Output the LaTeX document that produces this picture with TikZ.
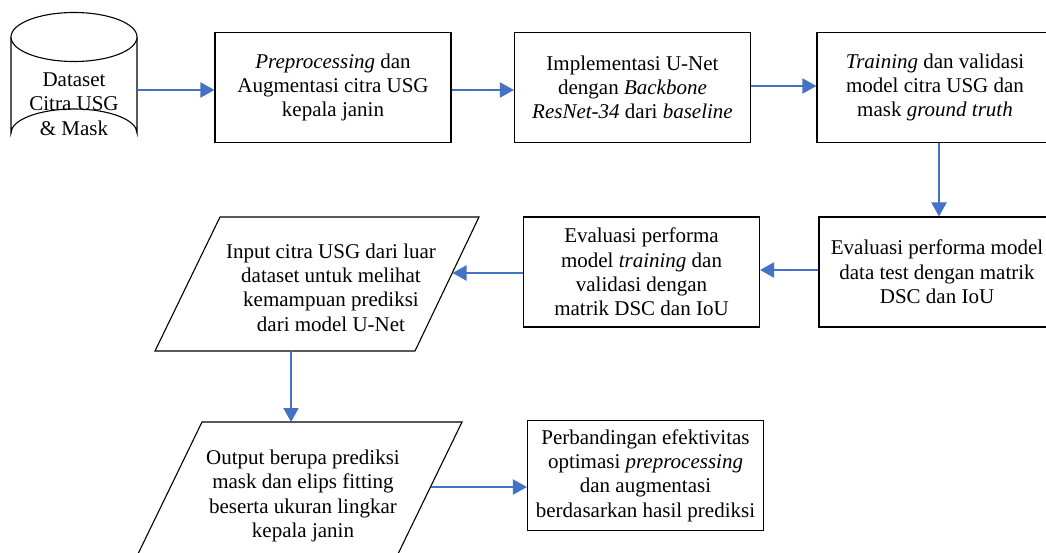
\documentclass[tikz,border=0pt]{standalone}
\usepackage{fontspec}
\setmainfont{Liberation Serif}
\usetikzlibrary{arrows.meta,calc}
\definecolor{arrblue}{RGB}{68,114,196}
\tikzset{
  box/.style={draw=black,line width=1.1pt,fill=white,minimum width=236pt,minimum height=110pt,align=center,inner sep=0pt,font=\fontsize{21}{24.3}\selectfont},
  txt/.style={align=center,inner sep=0pt,font=\fontsize{21}{24.3}\selectfont},
  shp/.style={draw=black,line width=1.1pt,fill=white},
  arr/.style={draw=arrblue,line width=2pt,-{Triangle[length=14pt,width=15pt]}}
}
\begin{document}
\begin{tikzpicture}[x=1pt,y=-1pt]
\fill[white] (0,0) rectangle (1046,553);
\useasboundingbox (0,0) rectangle (1046,553);
% cylinder
\draw[shp] (11,37) -- (11,133) arc[start angle=180,end angle=360,x radius=63,y radius=24] -- (137,37);
\draw[shp] (74,37) ellipse [x radius=63,y radius=24.5];
\node[txt] (cyl) at (74,104) {Dataset\\Citra USG\\\& Mask};
\coordinate (cylR) at (137,90);
% boxes
\node[box] (b1) at (333,87.5) {\textit{Preprocessing} dan\\Augmentasi citra USG\\kepala janin};
\node[box] (b2) at (632.5,87.5) {Implementasi U-Net\\dengan \textit{Backbone}\\\textit{ResNet-34} dari \textit{baseline}};
\node[box] (b3) at (935,87.5) {\textit{Training} dan validasi\\model citra USG dan\\mask \textit{ground truth}};
\node[box] (b4) at (937,272) {Evaluasi performa model\\data test dengan matrik\\DSC dan IoU};
\node[box] (b5) at (641.5,272) {Evaluasi performa\\model \textit{training} dan\\validasi dengan\\matrik DSC dan IoU};
\node[box] (b6) at (645.5,475.5) {Perbandingan efektivitas\\optimasi \textit{preprocessing}\\dan augmentasi\\berdasarkan hasil prediksi};
% parallelograms
\draw[shp] (220,217) -- (479,217) -- (415,351) -- (155,351) -- cycle;
\node[txt] (p1) at (331,287.5) {Input citra USG dari luar\\dataset untuk melihat\\kemampuan prediksi\\dari model U-Net};
\draw[shp] (202,422) -- (462,422) -- (397,556) -- (137,556) -- cycle;
\node[txt] (p2) at (303,496) {Output berupa prediksi\\mask dan elips fitting\\beserta ukuran lingkar\\kepala janin};
\coordinate (p1r) at (452.5,273);
\coordinate (p1b) at (291,351);
\coordinate (p2t) at (291,422);
\coordinate (p2r) at (431,487);
% connectors
\draw[arr] (cylR) -- (cylR -| b1.west);
\draw[arr] (b1.east |- cylR) -- (b2.west |- cylR);
\draw[arr] ([yshift=1.5pt]b2.east) -- ([yshift=1.5pt]b3.west);
\draw[arr] ([xshift=4pt]b3.south) -- ([xshift=4pt]b3.south |- b4.north);
\draw[arr] ([yshift=2pt]b4.west) -- ([yshift=2pt]b5.east);
\draw[arr] (b5.west |- p1r) -- (p1r);
\draw[arr] (p1b) -- (p2t);
\draw[arr] (p2r) -- (p2r -| b6.west);
\end{tikzpicture}
\end{document}
